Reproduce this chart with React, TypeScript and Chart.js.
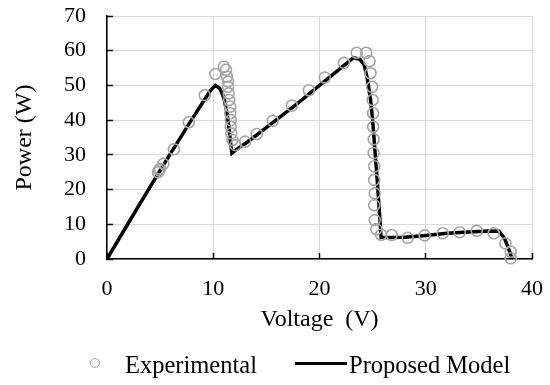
import React, { useEffect, useRef } from "react";
import { Chart, registerables } from "chart.js";

Chart.register(...registerables);

// Measured P–V points (voltage in V, power in W)
const expVoltage = [
  4.8, 4.9, 5.0, 5.3, 6.3, 7.7, 9.2, 10.2, 11.0, 11.2, 11.3, 11.4, 11.4, 11.45,
  11.5, 11.6, 11.6, 11.65, 11.65, 11.7, 11.8, 12.1, 13.0, 14.1, 15.6, 17.4,
  19.0, 20.5, 22.3, 23.5, 24.4, 24.7, 24.8, 24.95, 25.0, 25.05, 25.05, 25.1,
  25.1, 25.15, 25.15, 25.2, 25.15, 25.2, 25.35, 25.8, 26.8, 28.3, 29.9, 31.6,
  33.2, 34.8, 36.4, 37.5, 38.0, 38.0,
];
const expPower = [
  25.0, 25.6, 26.0, 27.4, 31.6, 39.4, 47.2, 53.3, 55.4, 54.5, 52.5, 51.1, 49.6,
  47.7, 45.8, 43.9, 42.0, 40.0, 38.1, 36.2, 34.3, 32.8, 33.8, 36.0, 39.8, 44.2,
  48.6, 52.3, 56.5, 59.4, 59.4, 57.0, 53.5, 49.6, 45.8, 42.0, 38.1, 34.5, 30.5,
  26.7, 22.8, 18.9, 15.5, 11.2, 8.6, 7.0, 6.9, 6.1, 6.8, 7.4, 7.7, 8.1, 7.4,
  4.5, 2.1, 0.2,
];

// Proposed model curve
const modelVoltage = [
  0, 2, 4, 6, 8, 9.2, 9.8, 10.2, 10.6, 11.0, 11.3, 11.5, 11.65, 11.75, 12.2, 13,
  14, 16, 18, 20, 22, 23.2, 23.8, 24.2, 24.5, 24.8, 25.0, 25.2, 25.45, 25.65,
  25.8, 26.5, 28, 30, 32, 34, 36, 36.9, 37.4, 37.8, 38.1,
];
const modelPower = [
  0, 10.3, 20.5, 30.5, 40.3, 46, 48.8, 50, 49.2, 46.5, 42, 37, 33, 30.5, 31.6,
  33.2, 35.5, 40.2, 45, 50, 55, 58, 57.5, 56, 52, 46, 40, 32, 22, 13, 6.2, 6.2,
  6.3, 6.8, 7.4, 7.8, 8.1, 8.0, 6, 3, 0.2,
];

const seriesNames = ["Experimental", "Proposed Model"];
const xTitle = "Voltage  (V)";
const yTitle = "Power (W)";

const SERIF = "'Liberation Serif', 'Times New Roman', serif";
const EXP_COLOR = "#a5a5a5";

// Pin an axis box to a fixed size and drop the label overhang padding,
// so the plot area is governed by layout.padding alone.
function pinAxis(size: "width" | "height", value: number) {
  return (scale: any) => {
    scale[size] = value;
    scale.paddingTop = 0;
    scale.paddingBottom = 0;
    scale.paddingLeft = 0;
    scale.paddingRight = 0;
  };
}

export default function App() {
  const canvasRef = useRef<HTMLCanvasElement | null>(null);

  useEffect(() => {
    const canvas = canvasRef.current;
    if (!canvas) return;

    const chart = new Chart(canvas, {
      type: "scatter",
      data: {
        datasets: [
          {
            label: seriesNames[0],
            data: expVoltage.map((v, i) => ({ x: v, y: expPower[i] })),
            showLine: false,
            pointRadius: 5.5,
            pointBorderWidth: 1.6,
            pointBorderColor: EXP_COLOR,
            pointBackgroundColor: "rgba(0,0,0,0)",
            clip: false,
          },
          {
            label: seriesNames[1],
            data: modelVoltage.map((v, i) => ({ x: v, y: modelPower[i] })),
            showLine: true,
            borderColor: "#000000",
            borderWidth: 3.5,
            pointRadius: 0,
            tension: 0,
          },
        ],
      },
      options: {
        responsive: false,
        animation: false,
        events: [],
        layout: { padding: { top: 16, right: 18, bottom: 51, left: 0 } },
        plugins: {
          legend: { display: false },
          tooltip: { enabled: false },
        },
        scales: {
          x: {
            type: "linear",
            min: 0,
            max: 40,
            ticks: {
              stepSize: 10,
              padding: 23,
              color: "#000",
              font: { family: SERIF, size: 22 },
            },
            grid: {
              color: "#d9d9d9",
              lineWidth: 1,
              tickLength: -6,
              tickColor: "#000",
              tickWidth: 1.5,
            },
            border: { display: true, color: "#000", width: 1.5 },
            title: {
              display: true,
              text: xTitle,
              color: "#000",
              padding: { top: 0, bottom: 0 },
              font: { family: SERIF, size: 24 },
            },
            afterFit: pinAxis("height", 75),
          },
          y: {
            type: "linear",
            min: 0,
            max: 70,
            ticks: {
              stepSize: 10,
              padding: 27,
              color: "#000",
              font: { family: SERIF, size: 22 },
            },
            grid: {
              color: "#d9d9d9",
              lineWidth: 1,
              tickLength: -6,
              tickColor: "#000",
              tickWidth: 1.5,
            },
            border: { display: true, color: "#000", width: 1.5 },
            title: {
              display: true,
              text: yTitle,
              color: "#000",
              padding: { top: 10, bottom: 0 },
              font: { family: SERIF, size: 24 },
            },
            afterFit: pinAxis("width", 107),
          },
        },
      },
    });

    return () => chart.destroy();
  }, []);

  const legendText: React.CSSProperties = {
    position: "absolute",
    top: 353,
    fontFamily: SERIF,
    fontSize: 24.5,
    lineHeight: "24px",
    color: "#000",
    whiteSpace: "nowrap",
  };

  return (
    <div
      style={{
        position: "fixed",
        left: 0,
        top: 0,
        width: 550,
        height: 385,
        background: "#fff",
        overflow: "hidden",
      }}
    >
      <canvas
        ref={canvasRef}
        width={550}
        height={385}
        style={{ position: "absolute", left: 0, top: 0, width: 550, height: 385 }}
      />
      <div
        style={{
          position: "absolute",
          left: 90,
          top: 358,
          width: 8,
          height: 8,
          borderRadius: "50%",
          border: `1.6px solid ${EXP_COLOR}`,
        }}
      />
      <span style={{ ...legendText, left: 125 }}>{seriesNames[0]}</span>
      <div
        style={{
          position: "absolute",
          left: 295,
          top: 362,
          width: 52,
          height: 3,
          background: "#000",
        }}
      />
      <span style={{ ...legendText, left: 349 }}>{seriesNames[1]}</span>
    </div>
  );
}
